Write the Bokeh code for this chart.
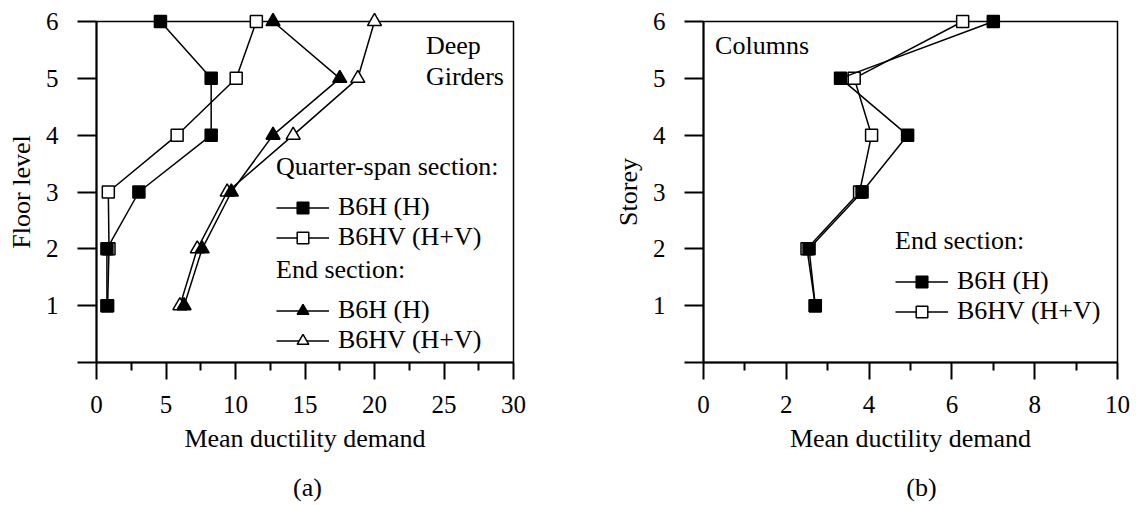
from bokeh.plotting import figure
from bokeh.layouts import row, column
from bokeh.models import Legend, LegendItem, Label, FixedTicker
from bokeh.embed import file_html
from bokeh.resources import INLINE

# ---- data ----
floors = [1, 2, 3, 4, 5, 6]
# (a) Deep girders
qs_b6h = [0.75, 0.75, 3.05, 8.25, 8.25, 4.6]      # quarter-span, B6H (H)
qs_b6hv = [0.8, 0.9, 0.85, 5.8, 10.05, 11.5]      # quarter-span, B6HV (H+V)
end_b6h = [6.3, 7.6, 9.7, 12.7, 17.5, 12.7]       # end section, B6H (H)
end_b6hv = [6.0, 7.25, 9.4, 14.15, 18.8, 20.0]    # end section, B6HV (H+V)
# (b) Columns
col_b6h = [2.7, 2.55, 3.83, 4.93, 3.31, 7.0]
col_b6hv = [2.7, 2.5, 3.77, 4.06, 3.64, 6.26]

xticks_a = [0, 5, 10, 15, 20, 25, 30]
xminor_a = [2.5, 7.5, 12.5, 17.5, 22.5, 27.5]
xticks_b = [0, 2, 4, 6, 8, 10]
xminor_b = [1, 3, 5, 7, 9]
yticks = [0, 1, 2, 3, 4, 5, 6]

FONT = "Liberation Serif"
FS = "26px"
TFS = "25px"
H = 470


def make_fig(width, xmax, xt, xm, left, right, ylabel):
    p = figure(width=width, height=H, x_range=(0, xmax), y_range=(0, 6),
               output_backend="svg", toolbar_location=None,
               min_border_left=left, min_border_right=right,
               min_border_top=21, min_border_bottom=H - 362)
    p.grid.visible = False
    p.outline_line_color = "black"
    p.outline_line_width = 1.5
    p.background_fill_color = "white"
    p.border_fill_color = "white"
    xa = p.xaxis[0]
    ya = p.yaxis[0]
    xa.ticker = FixedTicker(ticks=xt, minor_ticks=xm)
    ya.ticker = FixedTicker(ticks=yticks)
    ya.major_label_overrides = {0: ""}
    for ax in (xa, ya):
        ax.axis_line_width = 2
        ax.axis_line_color = "black"
        ax.major_tick_line_width = 2
        ax.major_tick_line_color = "black"
        ax.minor_tick_line_width = 2
        ax.minor_tick_line_color = "black"
        ax.major_tick_in = 0
        ax.minor_tick_in = 0
        ax.minor_tick_out = 8
        ax.major_label_text_font = FONT
        ax.major_label_text_font_size = TFS
        ax.major_label_text_color = "black"
        ax.axis_label_text_font = FONT
        ax.axis_label_text_font_size = FS
        ax.axis_label_text_font_style = "normal"
        ax.axis_label_text_color = "black"
    xa.major_tick_out = 17
    ya.major_tick_out = 19
    xa.major_label_standoff = 16
    ya.major_label_standoff = 19
    xa.axis_label = "Mean ductility demand"
    ya.axis_label = ylabel
    xa.axis_label_standoff = 8
    ya.axis_label_standoff = 7
    return p


def series(p, x, marker, filled, size):
    l = p.line(x, floors, line_color="black", line_width=1.5)
    s = p.scatter(x, floors, marker=marker, size=size, line_color="black",
                  line_width=1.5, fill_color="black" if filled else "white")
    l.level = "overlay"
    s.level = "overlay"
    return [l, s]


def make_legend(items, title, loc):
    lg = Legend(items=items, title=title, location=loc,
                border_line_alpha=0, background_fill_alpha=0,
                padding=0, margin=0, spacing=0,
                label_standoff=9, glyph_width=53, glyph_height=29,
                label_height=29,
                label_text_font=FONT, label_text_font_size=FS,
                label_text_color="black",
                title_text_font=FONT, title_text_font_size=FS,
                title_text_font_style="normal", title_text_color="black",
                title_standoff=10)
    return lg


# ---- (a) ----
p1 = make_fig(560, 30, xticks_a, xminor_a, 96, 47, "Floor level")
r_qhv = series(p1, qs_b6hv, "square", False, 12)
r_qh = series(p1, qs_b6h, "square", True, 12)
r_ehv = series(p1, end_b6hv, "triangle", False, 14)
r_eh = series(p1, end_b6h, "triangle", True, 14)

p1.add_layout(make_legend([LegendItem(label="B6H (H)", renderers=r_qh),
                           LegendItem(label="B6HV (H+V)", renderers=r_qhv)],
                          "Quarter-span section:", (180, 110)))
p1.add_layout(make_legend([LegendItem(label="B6H (H)", renderers=r_eh),
                           LegendItem(label="B6HV (H+V)", renderers=r_ehv)],
                          "End section:", (180, 7)))
p1.add_layout(Label(x=23.7, y=5.84, text="Deep\nGirders", text_font=FONT,
                    text_font_size=FS, text_baseline="top", text_align="left",
                    text_line_height=1.08, text_color="black"))

# ---- (b) ----
p2 = make_fig(577, 10, xticks_b, xminor_b, 143, 20, "Storey")
r_chv = series(p2, col_b6hv, "square", False, 12)
r_ch = series(p2, col_b6h, "square", True, 12)
p2.add_layout(make_legend([LegendItem(label="B6H (H)", renderers=r_ch),
                           LegendItem(label="B6HV (H+V)", renderers=r_chv)],
                          "End section:", (192, 36)))
p2.add_layout(Label(x=0.28, y=5.58, text="Columns", text_font=FONT, text_font_size=FS,
                    text_baseline="middle", text_align="left", text_color="black"))

# ---- captions strip ----
p3 = figure(width=1137, height=505 - H, x_range=(0, 1137), y_range=(0, 505 - H),
            output_backend="svg", toolbar_location=None, min_border=0)
p3.axis.visible = False
p3.grid.visible = False
p3.outline_line_color = None
p3.background_fill_color = "white"
p3.border_fill_color = "white"
for cx, txt in ((307, "(a)"), (921, "(b)")):
    p3.add_layout(Label(x=cx, y=18, text=txt, text_font=FONT, text_font_size=FS,
                        text_baseline="middle", text_align="center", text_color="black"))

layout = column(row(p1, p2), p3)
open("out.html", "w").write(file_html(layout, INLINE))
